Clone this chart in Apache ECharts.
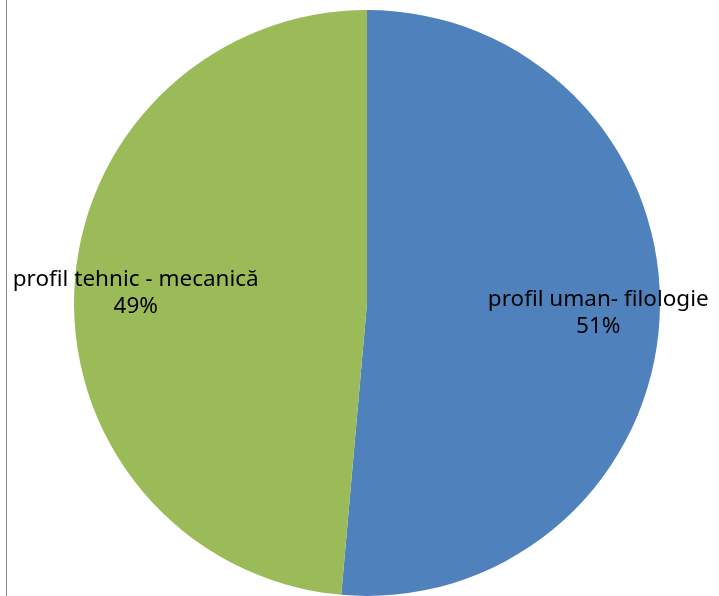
<!DOCTYPE html>
<html>
<head>
<meta charset="utf-8">
<script src="https://cdn.jsdelivr.net/npm/echarts@6/dist/echarts.min.js"></script>
<style>
  html, body { margin: 0; padding: 0; background: #fff; }
  #pieChart { width: 719px; height: 596px; }
</style>
</head>
<body>
<div id="pieChart"></div>
<script>
var categories = ['profil uman- filologie', 'profil tehnic - mecanică'];
var values = [51.4, 48.6];
var colors = ['#4f81bd', '#9bbb59'];

var cx = 367, cy = 303, radius = 293;
var labelRatio = 0.79;   // labels sit further out than the default half-radius

var myChart = echarts.init(document.getElementById('pieChart'));

var total = values.reduce(function (a, b) { return a + b; }, 0);
function labelPos(idx) {
    var before = 0;
    for (var i = 0; i < idx; i++) before += values[i];
    var mid = (before + values[idx] / 2) / total * Math.PI * 2;   // clockwise from top
    return {
        x: cx + Math.sin(mid) * radius * labelRatio,
        y: cy - Math.cos(mid) * radius * labelRatio
    };
}

var option = {
    animation: false,
    color: colors,
    graphic: [{
        type: 'line',
        shape: { x1: 6.5, y1: 0, x2: 6.5, y2: 596 },
        style: { stroke: '#868686', lineWidth: 1 }
    }],
    series: [{
        type: 'pie',
        center: [cx, cy],
        radius: radius,
        startAngle: 90,
        clockwise: true,
        percentPrecision: 0,
        itemStyle: { borderWidth: 0 },
        label: {
            show: true,
            position: 'inside',
            formatter: '{b}\n{d}%',
            color: '#000',
            fontFamily: 'Noto Sans',
            fontSize: 22.5,
            lineHeight: 27,
            align: 'center'
        },
        labelLayout: function (params) {
            var p = labelPos(params.dataIndex);
            return { x: p.x, y: p.y, align: 'center', verticalAlign: 'middle' };
        },
        emphasis: { disabled: true },
        data: categories.map(function (c, i) {
            return { name: c, value: values[i] };
        })
    }]
};

myChart.setOption(option);
</script>
</body>
</html>
